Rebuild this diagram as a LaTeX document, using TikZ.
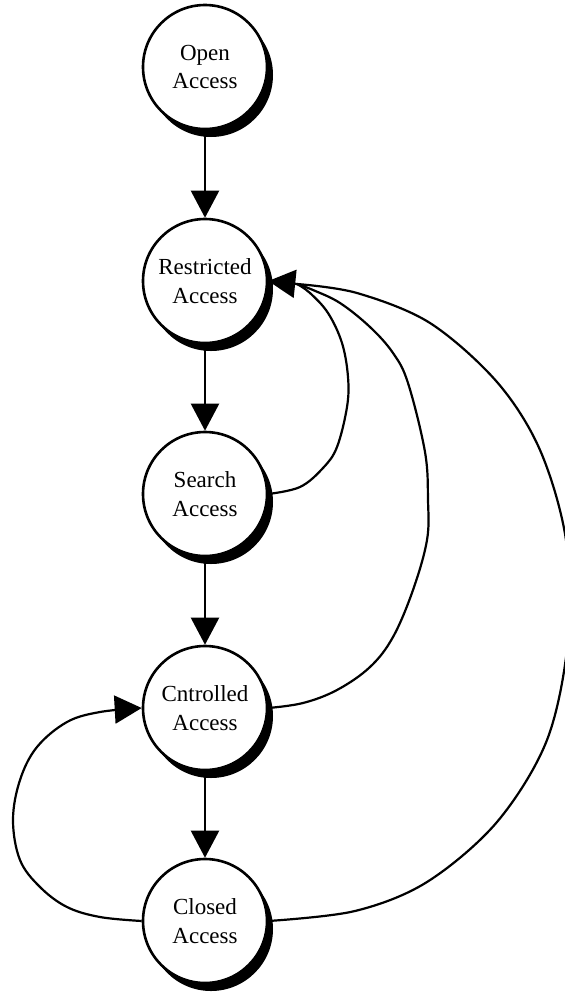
\documentclass[tikz,border=0pt]{standalone}
\usepackage{fontspec}
\setmainfont{Liberation Serif}
\usetikzlibrary{arrows.meta,shadows}
\begin{document}
\begin{tikzpicture}[x=1pt,y=-1pt,
  state/.style={circle, draw, line width=2.6pt, fill=white, minimum size=124pt,
    inner sep=0pt, align=center, font=\fontsize{23}{28.5}\selectfont,
    drop shadow={shadow xshift=6pt, shadow yshift=-8pt, opacity=1, fill=black}},
  link/.style={line width=2.2pt, line join=round},
  arr/.style={link, -{Triangle[length=27pt,width=28pt]}}]
\useasboundingbox (0,0) rectangle (565,994);
\node[state] (O)  at (205,67)  {Open\\Access};
\node[state] (R)  at (205,281) {Restricted\\Access};
\node[state] (S)  at (205,494) {Search\\Access};
\node[state] (C)  at (205,708) {Cntrolled\\Access};
\node[state] (Cl) at (205,921) {Closed\\Access};
\coordinate (RB) at (297,284);
% vertical arrows
\draw[arr] (O.south) -- (R.north);
\draw[arr] (R.south) -- (S.north);
\draw[arr] (S.south) -- (C.north);
\draw[arr] (C.south) -- (Cl.north);
% return arrows to Restricted
\draw[arr] (RB) -- (R.east);
\draw[link] plot[smooth, tension=0.6] coordinates {(S.east) (300,487) (323,468) (337,447) (347,407) (348,377) (342,343) (328,313) (310,293) (RB)};
\draw[link] plot[smooth, tension=0.6] coordinates {(C.east) (303,703) (337,690) (370,667) (393,637) (413,590) (427,540) (428,500) (425,452) (408,383) (393,353) (370,327) (340,303) (313,290) (RB)};
\draw[link] plot[smooth, tension=0.55] coordinates {(Cl.east) (355,911) (427,882) (497,822) (547,740) (568,640) (566,540) (540,450) (497,382) (430,323) (357,293) (RB)};
% loop from Closed to Cntrolled
\draw[arr] plot[smooth, tension=0.6] coordinates {(Cl.west) (100,917) (67,907) (40,887) (20,860) (13,820) (20,780) (37,747) (67,722) (100,712) (C.west)};
\end{tikzpicture}
\end{document}
